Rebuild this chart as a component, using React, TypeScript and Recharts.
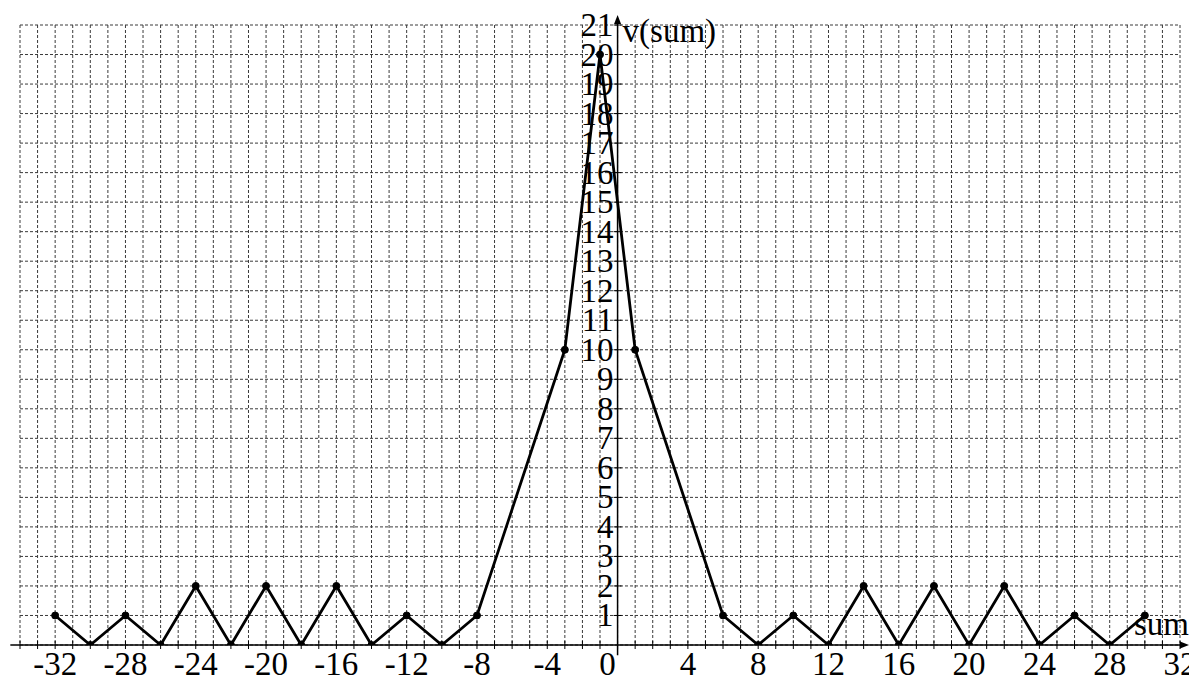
import React from "react";
import {
  LineChart,
  Line,
  XAxis,
  YAxis,
  CartesianGrid,
  ReferenceLine,
  ReferenceDot,
} from "recharts";

// ---- data ----
const sums = [-32, -30, -28, -26, -24, -22, -20, -18, -16, -14, -12, -10, -8, -3, -1, 1, 6, 8, 10, 12, 14, 16, 18, 20, 22, 24, 26, 28, 30];
const values = [1, 0, 1, 0, 2, 0, 2, 0, 2, 0, 1, 0, 1, 10, 20, 10, 1, 0, 1, 0, 2, 0, 2, 0, 2, 0, 1, 0, 1];
const xLabelTicks = [-32, -28, -24, -20, -16, -12, -8, -4, 0, 4, 8, 12, 16, 20, 24, 28, 32];
const yLabelTicks = [1, 2, 3, 4, 5, 6, 7, 8, 9, 10, 11, 12, 13, 14, 15, 16, 17, 18, 19, 20, 21];
const xDomain: [number, number] = [-34, 32];
const yDomain: [number, number] = [0, 21];
const xAxisLabel = "sum";
const yAxisLabel = "v(sum)";

const range = (a: number, b: number) => {
  const r: number[] = [];
  for (let i = a; i <= b; i++) r.push(i);
  return r;
};
const gridX = range(xDomain[0], xDomain[1]);
const gridY = range(yDomain[0], yDomain[1]);

const data = sums.map((s, i) => ({ sum: s, v: values[i] }));

const FONT = "'Liberation Serif', 'Times New Roman', serif";
const FS = 33;

const XTick = (props: any) => {
  const { x, y, payload } = props;
  const val = payload.value;
  const showLabel = xLabelTicks.includes(val);
  return (
    <g>
      <line x1={x} x2={x} y1={y - 4} y2={y + 4} stroke="#000" strokeWidth={1} />
      {showLabel && (
        <text
          x={val === 0 ? x - 10 : x}
          y={y + 30}
          textAnchor="middle"
          fontFamily={FONT}
          fontSize={FS}
          fill="#000"
        >
          {val}
        </text>
      )}
    </g>
  );
};

export default function App() {
  return (
    <div style={{ width: 1189, height: 672, background: "#fff" }}>
      <LineChart
        width={1189}
        height={672}
        data={data}
        margin={{ top: 17, right: 17, bottom: 0, left: 12 }}
        style={{ overflow: "visible" }}
      >
        <CartesianGrid
          stroke="#3a3a3a"
          strokeDasharray="3 2"
          strokeWidth={1}
          verticalValues={gridX}
          horizontalValues={gridY}
        />
        <XAxis
          dataKey="sum"
          type="number"
          domain={xDomain}
          ticks={gridX}
          interval={0}
          height={35}
          axisLine={false}
          tickLine={false}
          tickSize={0}
          tickMargin={0}
          tick={<XTick />}
          allowDataOverflow
        />
        <YAxis type="number" domain={yDomain} ticks={gridY} hide allowDataOverflow />
        {/* x axis line */}
        <ReferenceLine
          segment={[
            { x: -34.55, y: 0 },
            { x: 32.3, y: 0 },
          ]}
          stroke="#000"
          strokeWidth={1.5}
          ifOverflow="visible"
        />
        {/* y axis line */}
        <ReferenceLine
          segment={[
            { x: 0, y: -0.35 },
            { x: 0, y: 21.1 },
          ]}
          stroke="#000"
          strokeWidth={1.5}
          ifOverflow="visible"
        />
        {/* arrows */}
        <ReferenceDot
          x={32}
          y={0}
          r={0}
          ifOverflow="visible"
          shape={(p: any) => (
            <polygon
              points={`${p.cx + 9},${p.cy} ${p.cx},${p.cy - 3.5} ${p.cx},${p.cy + 3.5}`}
              fill="#000"
            />
          )}
        />
        <ReferenceDot
          x={0}
          y={21}
          r={0}
          ifOverflow="visible"
          shape={(p: any) => (
            <polygon
              points={`${p.cx},${p.cy - 10} ${p.cx - 3.5},${p.cy - 1} ${p.cx + 3.5},${p.cy - 1}`}
              fill="#000"
            />
          )}
        />
        {/* y tick marks and labels along x=0 */}
        {yLabelTicks.map((t) => (
          <ReferenceDot
            key={"yt" + t}
            x={0}
            y={t}
            r={0}
            ifOverflow="visible"
            shape={(p: any) => (
              <g>
                <line x1={p.cx - 4} x2={p.cx + 4} y1={p.cy} y2={p.cy} stroke="#000" strokeWidth={1} />
                <text
                  x={p.cx - 4}
                  y={p.cy + 11}
                  textAnchor="end"
                  fontFamily={FONT}
                  fontSize={FS}
                  fill="#000"
                >
                  {t}
                </text>
              </g>
            )}
          />
        ))}
        {/* axis titles */}
        <ReferenceDot
          x={0}
          y={21}
          r={0}
          ifOverflow="visible"
          shape={(p: any) => (
            <text x={p.cx + 5} y={p.cy + 17} fontFamily={FONT} fontSize={FS} fill="#000">
              {yAxisLabel}
            </text>
          )}
        />
        <ReferenceDot
          x={32}
          y={0}
          r={0}
          ifOverflow="visible"
          shape={(p: any) => (
            <text x={p.cx + 9} y={p.cy - 10} textAnchor="end" fontFamily={FONT} fontSize={FS} fill="#000">
              {xAxisLabel}
            </text>
          )}
        />
        <Line
          type="linear"
          dataKey="v"
          stroke="#000"
          strokeWidth={2.8}
          dot={{ r: 3.5, fill: "#000", stroke: "#000", strokeWidth: 1 }}
          isAnimationActive={false}
        />
      </LineChart>
    </div>
  );
}
